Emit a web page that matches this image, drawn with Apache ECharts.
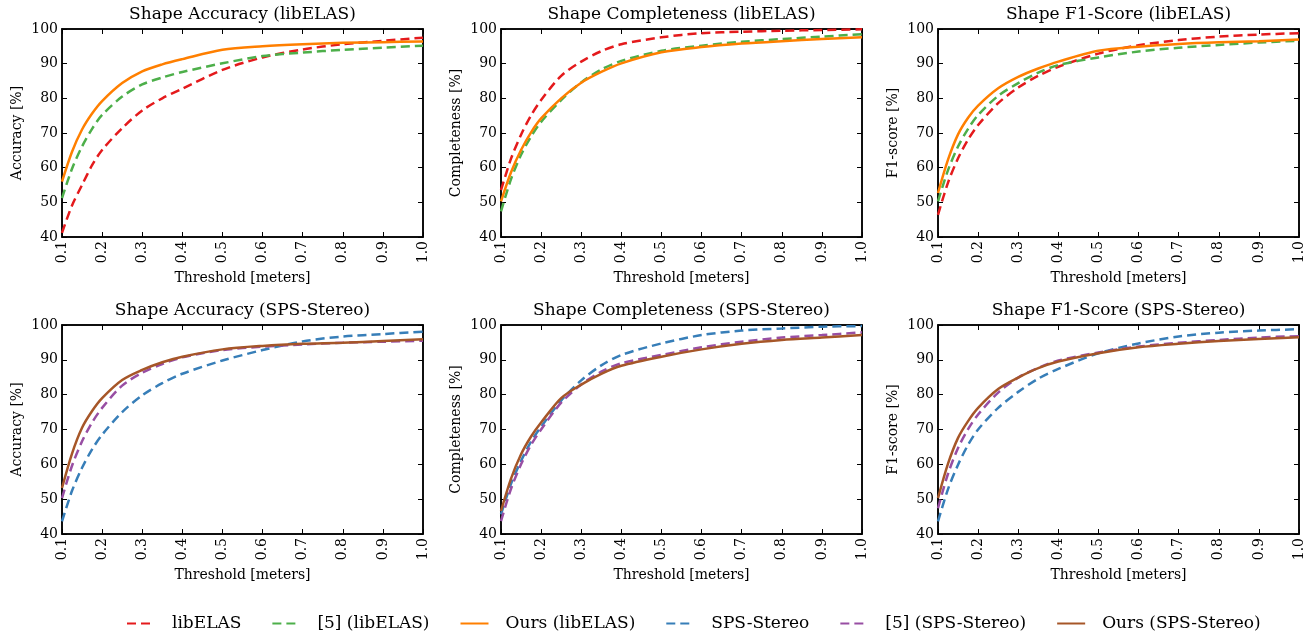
<!DOCTYPE html>
<html>
<head>
<meta charset="utf-8">
<script src="https://cdn.jsdelivr.net/npm/echarts@6/dist/echarts.min.js"></script>
<style>
  html, body { margin: 0; padding: 0; background: #fff; }
  #chart { width: 1309px; height: 635px; }
</style>
</head>
<body>
<div id="chart"></div>
<script>
// thresholds in meters
var thresholds = [0.1, 0.125, 0.15, 0.175, 0.2, 0.25, 0.3, 0.35, 0.4, 0.5, 0.6, 0.7, 0.8, 0.9, 1.0];

// libELAS row
var accElas      = [41.2, 49.1, 55.0, 60.7, 65.1, 71.4, 76.5, 80.0, 82.8, 88.2, 91.8, 94.1, 95.6, 96.6, 97.5];
var accElas5     = [51.2, 59.7, 66.1, 71.2, 75.2, 80.5, 84.0, 86.0, 87.6, 90.1, 92.2, 93.2, 94.0, 94.6, 95.2];
var accElasOurs  = [56.0, 64.6, 71.0, 75.6, 79.2, 84.4, 87.8, 89.8, 91.3, 94.0, 95.0, 95.6, 96.0, 96.2, 96.4];

var comElas      = [53.5, 62.6, 69.5, 75.1, 79.5, 86.5, 90.6, 93.6, 95.6, 97.6, 98.8, 99.2, 99.5, 99.7, 99.9];
var comElas5     = [47.4, 56.7, 63.7, 69.0, 73.2, 79.5, 84.6, 88.3, 90.8, 93.7, 95.2, 96.3, 97.1, 97.8, 98.5];
var comElasOurs  = [50.3, 58.7, 65.1, 70.2, 74.2, 80.0, 84.5, 87.6, 90.1, 93.3, 94.8, 95.8, 96.5, 97.1, 97.6];

var f1Elas       = [46.4, 55.7, 62.7, 68.1, 72.3, 78.6, 83.1, 86.5, 89.1, 92.9, 95.3, 96.8, 97.8, 98.4, 98.8];
var f1Elas5      = [50.3, 59.3, 66.1, 71.2, 75.2, 80.7, 84.4, 87.4, 89.6, 91.8, 93.5, 94.6, 95.4, 96.1, 96.6];
var f1ElasOurs   = [52.7, 62.3, 69.6, 74.4, 77.9, 82.9, 86.2, 88.6, 90.6, 93.7, 94.9, 95.7, 96.2, 96.5, 97.0];

// SPS-Stereo row
var accSps       = [43.6, 52.4, 59.0, 64.3, 68.5, 75.0, 79.8, 83.3, 86.0, 89.8, 92.8, 95.3, 96.7, 97.4, 98.1];
var accSps5      = [50.3, 59.6, 66.6, 72.0, 76.2, 82.6, 86.3, 88.8, 90.7, 92.8, 93.8, 94.4, 94.9, 95.2, 95.5];
var accSpsOurs   = [53.2, 63.1, 70.5, 75.3, 79.0, 84.2, 87.1, 89.3, 90.9, 93.0, 94.0, 94.6, 94.9, 95.4, 95.9];

var comSps       = [45.6, 54.4, 61.0, 66.5, 70.8, 78.3, 84.1, 88.4, 91.4, 94.7, 97.1, 98.4, 99.0, 99.5, 99.7];
var comSps5      = [43.7, 53.0, 60.0, 65.6, 70.0, 77.7, 82.9, 86.6, 89.0, 91.4, 93.6, 95.2, 96.4, 97.1, 97.9];
var comSpsOurs   = [46.6, 55.9, 62.9, 68.0, 72.0, 79.0, 82.9, 86.0, 88.3, 90.9, 93.0, 94.6, 95.7, 96.4, 97.1];

var f1Sps        = [43.6, 52.9, 59.9, 65.6, 70.0, 76.2, 80.8, 84.6, 87.4, 91.9, 94.7, 96.7, 97.8, 98.4, 98.8];
var f1Sps5       = [47.4, 57.3, 64.7, 70.1, 74.3, 80.6, 84.9, 87.7, 89.8, 92.1, 93.8, 94.9, 95.7, 96.4, 96.8];
var f1SpsOurs    = [50.3, 60.2, 67.6, 72.4, 76.2, 81.6, 84.9, 87.6, 89.5, 91.9, 93.6, 94.6, 95.4, 96.0, 96.5];

var legendNames = ['libELAS', '[5] (libELAS)', 'Ours (libELAS)', 'SPS-Stereo', '[5] (SPS-Stereo)', 'Ours (SPS-Stereo)'];
var colors = ['#e41a1c', '#4daf4a', '#ff7f00', '#377eb8', '#984ea3', '#a65628'];
var dashed = [true, true, false, true, true, false];

var panels = [
    {title: 'Shape Accuracy (libELAS)', yName: 'Accuracy [%]', lines: [accElas, accElas5, accElasOurs], off: 0},
    {title: 'Shape Completeness (libELAS)', yName: 'Completeness [%]', lines: [comElas, comElas5, comElasOurs], off: 0},
    {title: 'Shape F1-Score (libELAS)', yName: 'F1-score [%]', lines: [f1Elas, f1Elas5, f1ElasOurs], off: 0},
    {title: 'Shape Accuracy (SPS-Stereo)', yName: 'Accuracy [%]', lines: [accSps, accSps5, accSpsOurs], off: 3},
    {title: 'Shape Completeness (SPS-Stereo)', yName: 'Completeness [%]', lines: [comSps, comSps5, comSpsOurs], off: 3},
    {title: 'Shape F1-Score (SPS-Stereo)', yName: 'F1-score [%]', lines: [f1Sps, f1Sps5, f1SpsOurs], off: 3}
];

var FONT = 'DejaVu Serif';
var colL = [62, 501, 938];
var colR = [423, 862, 1299];
var rowT = [29, 325];
var rowB = [237, 534];

var grids = [], titles = [], xAxes = [], yAxes = [], series = [];

panels.forEach(function (p, i) {
    var c = i % 3, r = Math.floor(i / 3);
    grids.push({
        left: colL[c], top: rowT[r],
        width: colR[c] - colL[c], height: rowB[r] - rowT[r],
        show: true, borderColor: '#000', borderWidth: 1.5, backgroundColor: 'transparent'
    });
    titles.push({
        text: p.title,
        left: (colL[c] + colR[c]) / 2,
        top: rowT[r] - 23,
        textAlign: 'center',
        padding: 0,
        textStyle: {fontFamily: FONT, fontSize: 17, fontWeight: 'normal', color: '#000'}
    });
    // main axes
    xAxes.push({
        type: 'value', gridIndex: i, min: 0.1, max: 1.0, interval: 0.1,
        name: 'Threshold [meters]', nameLocation: 'middle', nameGap: 34,
        nameTextStyle: {fontFamily: FONT, fontSize: 14, color: '#000'},
        axisLine: {show: true, lineStyle: {color: '#000', width: 1.5}},
        axisTick: {inside: true, length: 5, lineStyle: {color: '#000'}},
        axisLabel: {rotate: 90, margin: 4, fontFamily: FONT, fontSize: 14, color: '#000',
            formatter: function (v) { return v.toFixed(1); }},
        splitLine: {show: false}
    });
    yAxes.push({
        type: 'value', gridIndex: i, min: 40, max: 100, interval: 10,
        name: p.yName, nameLocation: 'middle', nameGap: 38,
        nameTextStyle: {fontFamily: FONT, fontSize: 14, color: '#000'},
        axisLine: {show: true, lineStyle: {color: '#000', width: 1.5}},
        axisTick: {inside: true, length: 5, lineStyle: {color: '#000'}},
        axisLabel: {margin: 4, fontFamily: FONT, fontSize: 14, color: '#000'},
        splitLine: {show: false}
    });
    p.lines.forEach(function (vals, k) {
        var li = p.off + k;
        series.push({
            name: legendNames[li],
            type: 'line',
            xAxisIndex: i, yAxisIndex: i,
            smooth: 0.3,
            symbol: 'none',
            color: colors[li],
            lineStyle: {width: 2.5, color: colors[li], type: dashed[li] ? [9, 5] : 'solid'},
            data: thresholds.map(function (t, j) { return [t, vals[j]]; }),
            z: 2 + k
        });
    });
});

// mirror ticks on top and right like the original
panels.forEach(function (p, i) {
    xAxes.push({
        type: 'value', gridIndex: i, position: 'top', min: 0.1, max: 1.0, interval: 0.1,
        axisLine: {show: true, lineStyle: {color: '#000', width: 1.5}},
        axisTick: {inside: true, length: 5, lineStyle: {color: '#000'}},
        axisLabel: {show: false}, splitLine: {show: false}
    });
    yAxes.push({
        type: 'value', gridIndex: i, position: 'right', min: 40, max: 100, interval: 10,
        axisLine: {show: true, lineStyle: {color: '#000', width: 1.5}},
        axisTick: {inside: true, length: 5, lineStyle: {color: '#000'}},
        axisLabel: {show: false}, splitLine: {show: false}
    });
});

var myChart = echarts.init(document.getElementById('chart'), null, {renderer: 'canvas'});
myChart.setOption({
    animation: false,
    backgroundColor: '#fff',
    title: titles,
    grid: grids,
    xAxis: xAxes,
    yAxis: yAxes,
    legend: {
        data: legendNames,
        left: 121, top: 610,
        itemWidth: 28, itemHeight: 10, itemGap: 30,
        itemStyle: {opacity: 0},
        textStyle: {fontFamily: FONT, fontSize: 17, color: '#000', padding: [0, 0, 0, 12]}
    },
    series: series
});
</script>
</body>
</html>
